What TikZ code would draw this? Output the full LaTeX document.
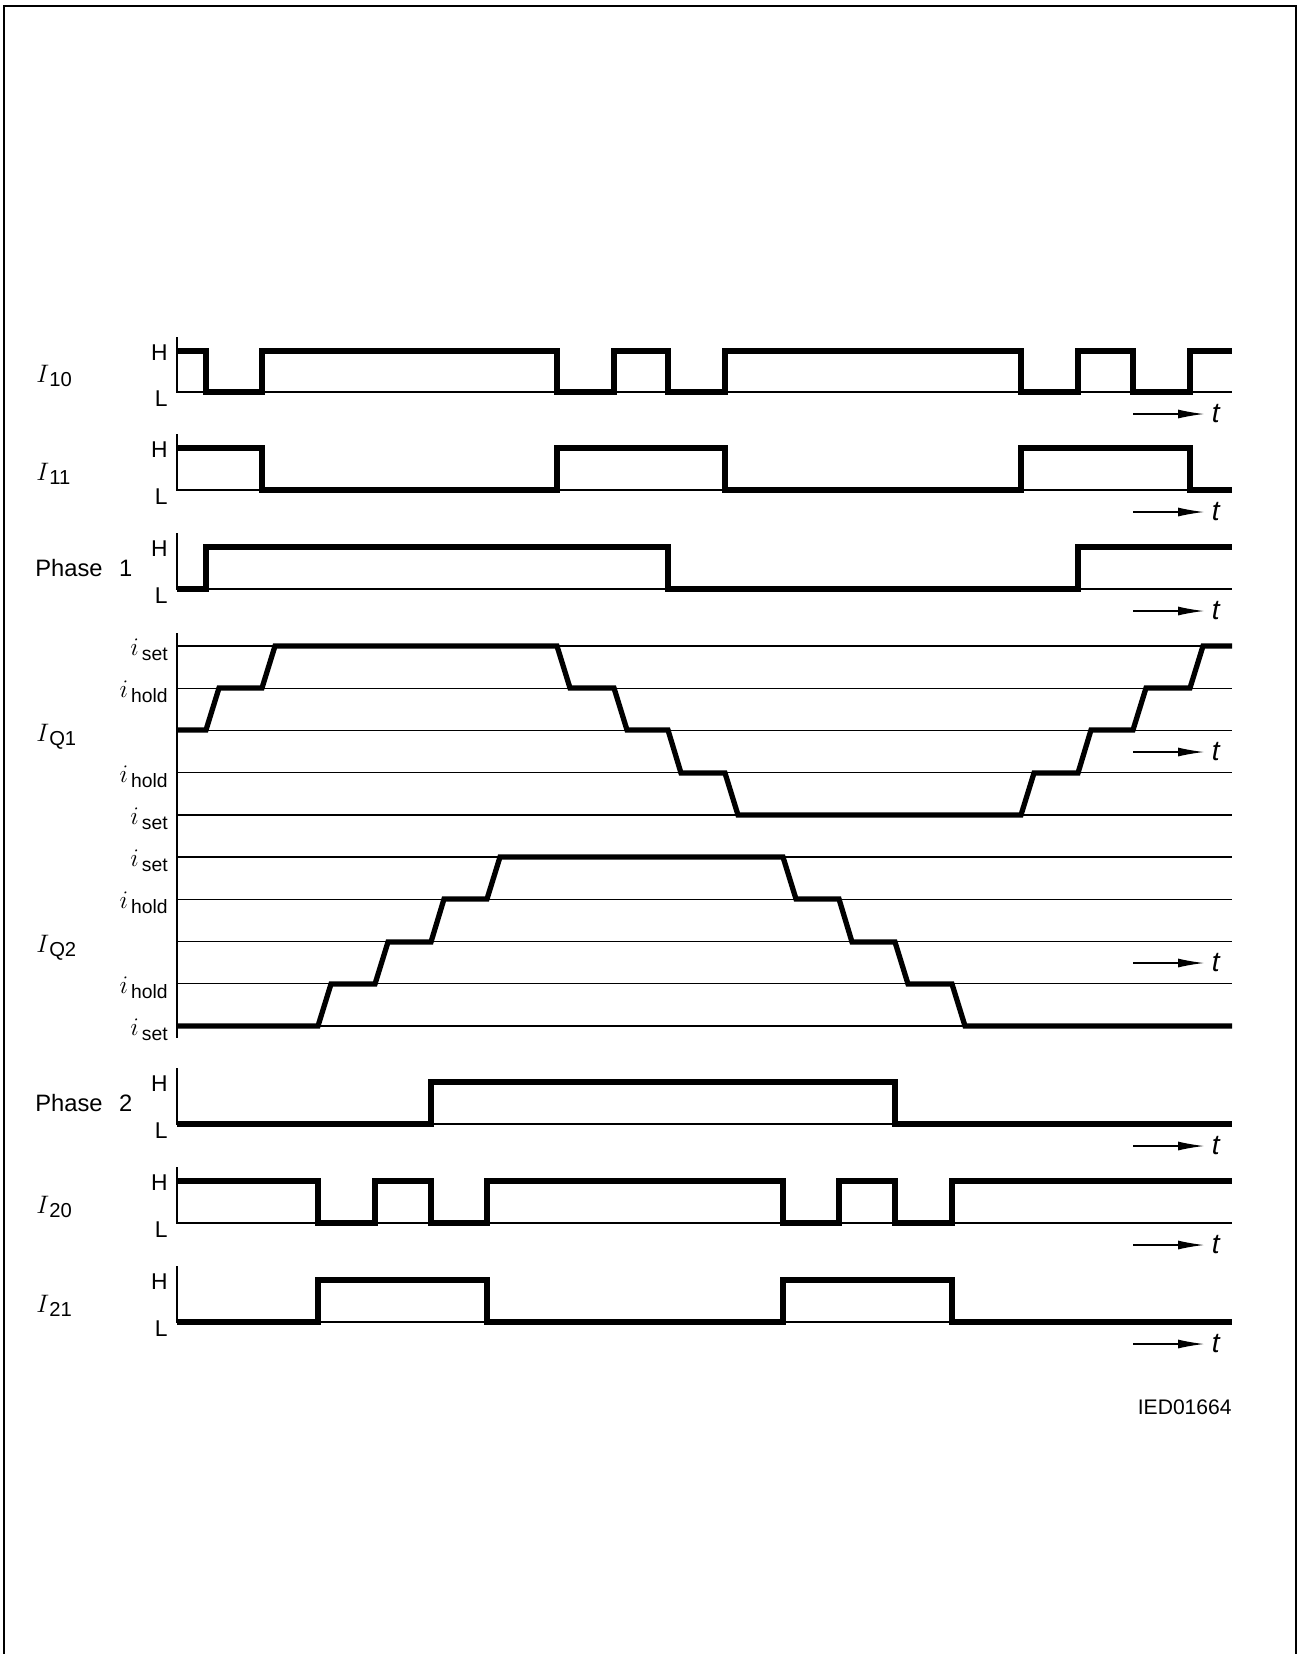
\documentclass[tikz,border=0pt]{standalone}
\usepackage{fontspec}
\setsansfont{Liberation Sans}
\usetikzlibrary{arrows.meta, positioning}

\newcommand{\siglbl}[1]{{\fontsize{15.5}{15}\selectfont$I$}\raisebox{-0.3ex}{\sffamily\fontsize{11.5}{11}\selectfont #1}}
\newcommand{\curlbl}[1]{{\fontsize{14}{14}\selectfont$i$}\,\raisebox{-0.6ex}{\sffamily\fontsize{11}{11}\selectfont #1}}

\begin{document}
\begin{tikzpicture}[x=0.2mm, y=-0.2mm,
    sig/.style={line width=3pt},
    base/.style={line width=0.7pt},
    tarrow/.style={line width=0.7pt, -{Latex[length=5.2mm, width=1.8mm]}},
    hl/.style={anchor=east, inner sep=0pt, font=\sffamily\fontsize{13}{13}\selectfont},
    lvl/.style={anchor=east, inner sep=0pt},
    chname/.style={anchor=west, inner sep=0pt, font=\sffamily\fontsize{13.5}{13}\selectfont},
    tlbl/.style={inner sep=0pt, font=\sffamily\itshape\fontsize{16}{16}\selectfont}]
    \useasboundingbox (0,0) rectangle (1298,1654);
    \draw[line width=0.6pt] (4,1654) -- (4,6) -- (1296,6) -- (1296,1654);

    % H/L channels
    \foreach \h/\l/\n in {351/392/a, 448/490/b, 547/589/c, 1082/1124/d, 1181/1223/e, 1280/1322/f} {
        \draw[base] (177,\h-14) -- (177,\l) -- (1232,\l);
        \node[hl] (H\n) at (168,\h+2) {H};
        \node[hl] (L\n) at (168,\l+7) {L};
    }
    % current levels
    \draw[base] (177,633) -- (177,1038);
    \foreach \k in {0,...,9}
        \draw[base] (177,646+42.22*\k) -- (1232,646+42.22*\k);
    \node[lvl] (q1a) at (168,650) {\curlbl{set}};
    \node[lvl] (q1b) at (168,692) {\curlbl{hold}};
    \node[lvl] (q1c) at (168,777) {\curlbl{hold}};
    \node[lvl] (q1d) at (168,819) {\curlbl{set}};
    \node[lvl] (q2a) at (168,861) {\curlbl{set}};
    \node[lvl] (q2b) at (168,903) {\curlbl{hold}};
    \node[lvl] (q2c) at (168,988) {\curlbl{hold}};
    \node[lvl] (q2d) at (168,1030) {\curlbl{set}};

    % time arrows
    \foreach \y/\n in {414/a, 512/b, 611/c, 752/q, 963/r, 1146/d, 1245/e, 1344/f} {
        \coordinate (ta\n) at (1133,\y);
        \coordinate (tb\n) at (1204,\y);
        \draw[tarrow] (ta\n) -- (tb\n);
        \node[tlbl, right=1.5mm of tb\n] (t\n) {t};
    }

    % names
    \node[chname] (i10) at (36,376) {\siglbl{10}};
    \node[chname] (i11) at (36,474) {\siglbl{11}};
    \node[chname] (ph1) at (35,568) {Phase\hspace{0.7em}1};
    \node[chname] (iq1) at (36,737) {\siglbl{Q1}};
    \node[chname] (iq2) at (36,948) {\siglbl{Q2}};
    \node[chname] (ph2) at (35,1103) {Phase\hspace{0.7em}2};
    \node[chname] (i20) at (36,1207) {\siglbl{20}};
    \node[chname] (i21) at (36,1306) {\siglbl{21}};

    % waveforms
    \draw[sig] (177,351) -| (206,392) -| (262,351) -| (557,392) -| (614,351) -| (668,392)
        -| (725,351) -| (1021,392) -| (1078,351) -| (1133,392) -| (1190,351) -- (1232,351);
    \draw[sig] (177,448) -| (262,490) -| (557,448) -| (725,490) -| (1021,448) -| (1190,490) -- (1232,490);
    \draw[sig] (177,589) -| (206,547) -| (668,589) -| (1078,547) -- (1232,547);
    \draw[sig] (177,730) -- (206,730) -- (219,688) -- (262,688) -- (275,646) -- (557,646)
        -- (570,688) -- (614,688) -- (627,730) -- (668,730) -- (681,773) -- (725,773)
        -- (738,815) -- (1021,815) -- (1034,773) -- (1078,773) -- (1091,730) -- (1133,730)
        -- (1146,688) -- (1190,688) -- (1203,646) -- (1232,646);
    \draw[sig] (177,1026) -- (318,1026) -- (331,984) -- (375,984) -- (388,942) -- (431,942)
        -- (444,899) -- (487,899) -- (500,857) -- (783,857) -- (796,899) -- (839,899)
        -- (852,942) -- (895,942) -- (908,984) -- (952,984) -- (965,1026) -- (1232,1026);
    \draw[sig] (177,1124) -| (431,1082) -| (895,1124) -- (1232,1124);
    \draw[sig] (177,1181) -| (318,1223) -| (375,1181) -| (431,1223) -| (487,1181) -| (783,1223)
        -| (839,1181) -| (895,1223) -| (952,1181) -- (1232,1181);
    \draw[sig] (177,1322) -| (318,1280) -| (487,1322) -| (783,1280) -| (952,1322) -- (1232,1322);

    \node[anchor=east, inner sep=0pt, font=\sffamily\fontsize{12}{12}\selectfont] (code) at (1232,1407) {IED01664};
\end{tikzpicture}
\end{document}
